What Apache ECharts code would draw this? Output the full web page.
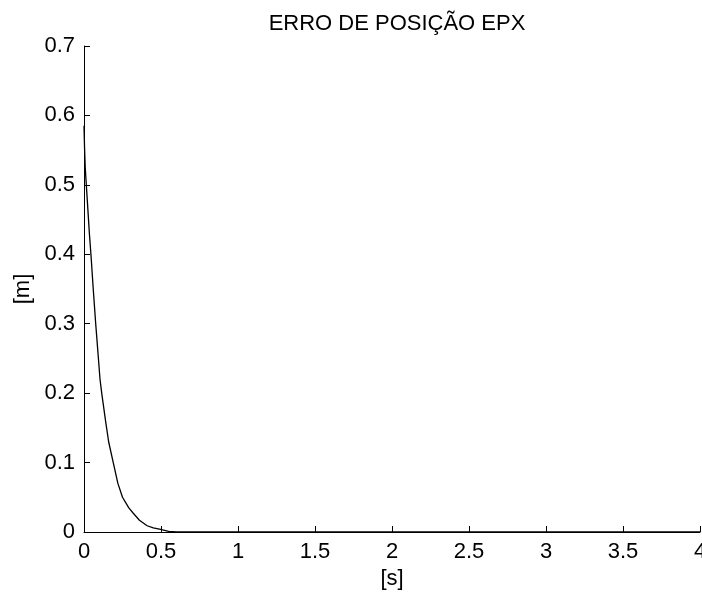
<!DOCTYPE html>
<html>
<head>
<meta charset="utf-8">
<script src="https://cdn.jsdelivr.net/npm/echarts@6/dist/echarts.min.js"></script>
<style>
  html, body { margin: 0; padding: 0; background: #fff; }
  #chart { width: 702px; height: 594px; }
</style>
</head>
<body>
<div id="chart"></div>
<script>
const chartTitle = "ERRO DE POSIÇÃO EPX";
const xName = "[s]";
const yName = "[m]";

// tempo [s] e erro [m]
const timeValues = [0, 0.004, 0.008, 0.015, 0.025, 0.035, 0.045, 0.06, 0.076, 0.09, 0.104, 0.115,
  0.14, 0.16, 0.19, 0.22, 0.25, 0.29, 0.32, 0.36, 0.41, 0.45, 0.49, 0.55, 0.6, 1, 2, 3, 4];
const errorValues = [0.585, 0.55, 0.525, 0.5, 0.465, 0.43, 0.4, 0.35, 0.3, 0.26, 0.22, 0.2,
  0.16, 0.13, 0.1, 0.07, 0.05, 0.035, 0.027, 0.017, 0.009, 0.006, 0.004, 0.001, 0, 0, 0, 0, 0];

const fontFamily = "'Liberation Sans', Arial, sans-serif";
const chart = echarts.init(document.getElementById("chart"));

chart.setOption({
  animation: false,
  backgroundColor: "#fff",
  title: {
    text: chartTitle,
    left: 392,
    top: 8,
    textAlign: "center",
    textStyle: { fontFamily, fontSize: 22, fontWeight: "normal", color: "#000" }
  },
  grid: { left: 84, right: 2, top: 46, bottom: 62, containLabel: false, outerBoundsMode: "none" },
  xAxis: {
    type: "value",
    min: 0,
    max: 4,
    interval: 0.5,
    name: xName,
    nameLocation: "middle",
    nameGap: 36,
    nameTextStyle: { fontFamily, fontSize: 22, color: "#000" },
    axisLine: { onZero: false, lineStyle: { color: "#000", width: 1 } },
    axisTick: { inside: true, length: 6, lineStyle: { color: "#000" } },
    axisLabel: { fontFamily, fontSize: 22, color: "#000", margin: 9, showMaxLabel: true },
    splitLine: { show: false }
  },
  yAxis: {
    type: "value",
    min: 0,
    max: 0.7,
    interval: 0.1,
    name: yName,
    nameLocation: "middle",
    nameGap: 50,
    nameTextStyle: { fontFamily, fontSize: 22, color: "#000" },
    axisLine: { show: true, lineStyle: { color: "#000", width: 1 } },
    axisTick: { show: true, inside: true, length: 6, lineStyle: { color: "#000" } },
    axisLabel: { fontFamily, fontSize: 22, color: "#000", margin: 9 },
    splitLine: { show: false }
  },
  series: [{
    type: "line",
    data: timeValues.map((t, i) => [t, errorValues[i]]),
    showSymbol: false,
    clip: false,
    lineStyle: { color: "#000", width: 1.3 }
  }]
});
</script>
</body>
</html>
